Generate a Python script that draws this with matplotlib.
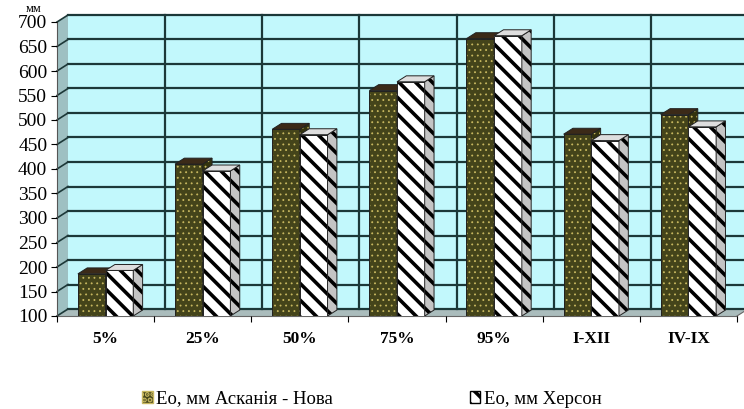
import matplotlib
matplotlib.use("Agg")
import matplotlib.pyplot as plt
from matplotlib.patches import Patch
import numpy as np

# data
categories = ['5%', '25%', '50%', '75%', '95%', 'I-XII', 'IV-IX']
askania = [186, 410, 481, 560, 666, 471, 511]
kherson = [193, 396, 470, 578, 672, 458, 486]
series_names = ['Ео, мм Асканія - Нова', 'Ео, мм Херсон']
yticks = list(range(100, 701, 50))

plt.rcParams['font.family'] = ['Liberation Serif', 'DejaVu Serif']
plt.rcParams['hatch.linewidth'] = 2.6

W, H = 744, 409
fig = plt.figure(figsize=(W / 100, H / 100), dpi=100)
ax = fig.add_axes([57 / W, (H - 316) / H, 680 / W, (316 - 22) / H])
ax.set_xlim(0, len(categories))
ax.set_ylim(100, 700)

# fake 3d depth (in data units)
DX = 11 / 97.14
DY = 7 * 600 / 294.0
n = len(categories)

wall_c = '#c2f8fc'
side_c = '#9ec0c2'
floor_c = '#aabcbc'
grid_c = '#1c3838'

ax.fill([DX, n + DX, n + DX, DX], [100 + DY, 100 + DY, 700 + DY, 700 + DY],
        color=wall_c, zorder=0, clip_on=False, lw=0)
ax.fill([0, DX, DX, 0], [100, 100 + DY, 700 + DY, 700],
        color=side_c, zorder=0, clip_on=False, lw=0)
ax.fill([0, n, n + DX, DX], [100, 100, 100 + DY, 100 + DY],
        color=floor_c, zorder=0, clip_on=False, lw=0)

for y in yticks:
    ax.plot([DX, n + DX], [y + DY, y + DY], color=grid_c, lw=1.6, zorder=1, clip_on=False)
    ax.plot([0, DX], [y, y + DY], color=grid_c, lw=1.2, zorder=1, clip_on=False)
for i in range(1, n):
    ax.plot([i + DX, i + DX], [100 + DY, 700 + DY], color=grid_c, lw=1.6, zorder=1, clip_on=False)
ax.plot([0, 0], [100, 700], color='#555555', lw=0.8, zorder=1, clip_on=False)
ax.plot([0, n], [100, 100], color='#666666', lw=0.8, zorder=1, clip_on=False)
ax.plot([n, n + DX], [100, 100 + DY], color='#666666', lw=0.8, zorder=1, clip_on=False)

# bars
bw = 0.285
off = 0.215
bdx = DX * 0.85
bdy = DY * 0.85
x = np.arange(n)

styles = [
    dict(front='#44441a', side='#33330f', top='#3b2a18', hatch='...', hc='#c8b860', hlw=0.6),
    dict(front='white', side='#c4c4c4', top='#dedede', hatch='\\\\', hc='black', hlw=2.6),
]

def hatch_patch(p, hatch, hc, hlw):
    p.set_hatch(hatch)
    p.set_edgecolor(hc)
    if hasattr(p, 'set_hatch_linewidth'):
        p.set_hatch_linewidth(hlw)

for k, vals in enumerate([askania, kherson]):
    st = styles[k]
    xs = x + off + k * bw
    z = 3 + k
    # front faces
    ax.bar(xs, np.array(vals) - 100, bottom=100, width=bw, align='edge',
           color=st['front'], edgecolor='none', zorder=z)
    hb = ax.bar(xs, np.array(vals) - 100, bottom=100, width=bw, align='edge',
                color='none', lw=0, zorder=z)
    for p in hb:
        hatch_patch(p, st['hatch'], st['hc'], st['hlw'])
    ax.bar(xs, np.array(vals) - 100, bottom=100, width=bw, align='edge',
           color='none', edgecolor='#222222', lw=0.7, zorder=z)
    for xi, v in zip(xs, vals):
        # side face
        sx = [xi + bw, xi + bw + bdx, xi + bw + bdx, xi + bw]
        sy = [100, 100 + bdy, v + bdy, v]
        ax.fill(sx, sy, color=st['side'], lw=0, zorder=z)
        hp = ax.fill(sx, sy, facecolor='none', lw=0, zorder=z)[0]
        hatch_patch(hp, st['hatch'], st['hc'], st['hlw'])
        ax.fill(sx, sy, facecolor='none', edgecolor='#222222', lw=0.7, zorder=z)
        # top face
        ax.fill([xi, xi + bw, xi + bw + bdx, xi + bdx], [v, v, v + bdy, v + bdy],
                facecolor=st['top'], edgecolor='#222222', lw=0.7, zorder=z)

for s in ax.spines.values():
    s.set_visible(False)

ax.set_yticks(yticks)
ax.set_yticklabels([str(t) for t in yticks], fontsize=14)
ax.tick_params(axis='y', length=4, width=0.8, pad=3)
ax.set_xticks(np.arange(n + 1))
ax.set_xticklabels([])
ax.set_xticks(x + 0.5, minor=True)
ax.set_xticklabels(categories, minor=True, fontsize=12.5, fontweight='bold')
ax.tick_params(axis='x', which='major', length=4, width=0.8)
ax.tick_params(axis='x', which='minor', length=0, pad=11)

fig.text(26 / W, 1 - 9 / H, 'мм', fontsize=9, ha='left', va='center')

handles = [
    Patch(facecolor=styles[0]['front'], edgecolor='#c8b860', hatch='...'),
    Patch(facecolor='white', edgecolor='black', hatch='\\\\'),
]
fig.legend(handles, series_names, loc='center', bbox_to_anchor=(372 / W, 1 - 399 / H),
           ncol=2, frameon=False, prop={'family': 'Liberation Serif', 'size': 13.5},
           handlelength=0.55, handleheight=0.55,
           handletextpad=0.2, columnspacing=7.3, borderpad=0)

fig.savefig('out.png', dpi=100)
